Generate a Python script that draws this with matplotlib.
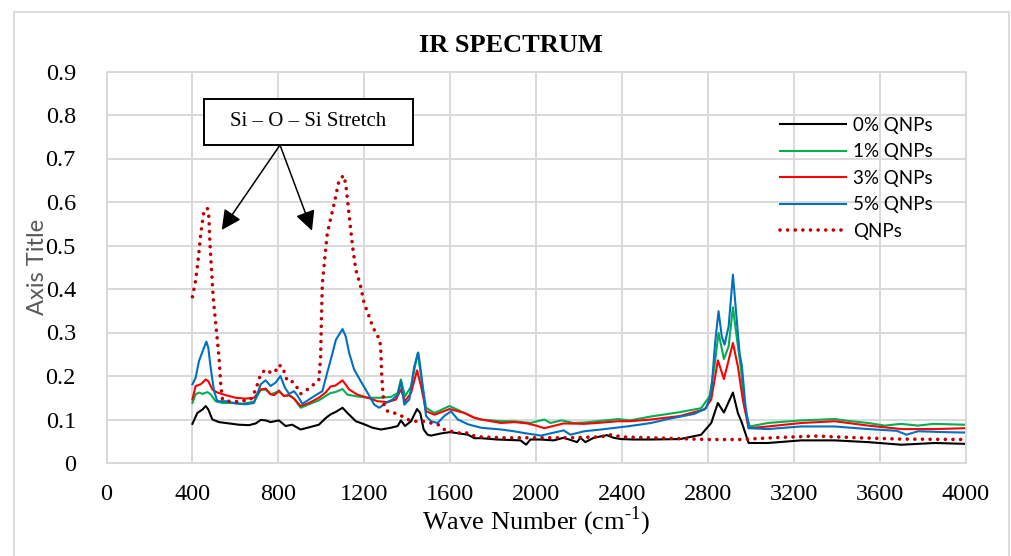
import matplotlib
matplotlib.use("Agg")
import matplotlib.pyplot as plt
from matplotlib.patches import Rectangle

# ---------------- data ----------------
x_0pct = [400,423,447,462,474,493,524,570,617,664,695,718,741,764,803,834,865,904,943,989,1020,1044,1066,1099,1122,1161,1200,1239,1278,1324,1356,1371,1390,1418,1446,1461,1477,1495,1511,1558,1600,1643,1683,1713,1745,1820,1928,1954,1974,2021,2083,2129,2191,2207,2230,2269,2330,2361,2396,2454,2536,2671,2769,2816,2847,2875,2917,2940,2959,2990,3080,3235,3391,3546,3702,3857,4000]
y_0pct = [0.090,0.115,0.123,0.131,0.123,0.100,0.094,0.091,0.088,0.087,0.091,0.099,0.098,0.094,0.098,0.085,0.088,0.077,0.082,0.088,0.103,0.112,0.117,0.127,0.115,0.096,0.089,0.081,0.077,0.081,0.085,0.098,0.085,0.096,0.124,0.115,0.077,0.065,0.063,0.068,0.071,0.068,0.065,0.057,0.057,0.054,0.052,0.042,0.054,0.054,0.052,0.058,0.048,0.058,0.048,0.058,0.064,0.058,0.055,0.054,0.054,0.055,0.065,0.092,0.138,0.116,0.162,0.115,0.092,0.046,0.046,0.052,0.052,0.048,0.042,0.046,0.044]

x_1pct = [400,415,431,447,470,485,508,540,586,633,687,718,741,764,788,803,826,850,873,904,943,989,1020,1044,1066,1099,1122,1169,1216,1278,1324,1356,1371,1390,1418,1449,1465,1488,1527,1597,1667,1713,1745,1837,1897,1974,2039,2067,2120,2175,2225,2284,2381,2438,2536,2671,2692,2769,2808,2831,2850,2875,2897,2917,2932,2953,2971,2995,3080,3235,3391,3469,3546,3624,3700,3779,3850,4000]
y_1pct = [0.138,0.158,0.162,0.159,0.163,0.158,0.142,0.138,0.138,0.136,0.141,0.168,0.169,0.158,0.162,0.167,0.154,0.156,0.148,0.127,0.135,0.144,0.154,0.161,0.163,0.170,0.157,0.153,0.150,0.150,0.152,0.161,0.192,0.153,0.176,0.253,0.199,0.127,0.115,0.131,0.115,0.104,0.100,0.096,0.096,0.092,0.100,0.092,0.098,0.092,0.093,0.096,0.101,0.098,0.107,0.117,0.119,0.126,0.153,0.222,0.299,0.239,0.268,0.358,0.299,0.222,0.130,0.084,0.092,0.098,0.101,0.096,0.092,0.086,0.090,0.086,0.090,0.088]

x_3pct = [400,415,439,462,474,493,516,555,601,648,687,718,741,764,780,803,826,850,873,904,943,989,1020,1044,1066,1099,1130,1169,1216,1262,1309,1348,1371,1390,1418,1446,1465,1488,1527,1597,1667,1713,1745,1837,1900,1959,2000,2039,2129,2225,2284,2381,2438,2536,2671,2692,2785,2816,2847,2875,2917,2940,2963,2990,3080,3235,3391,3546,3702,3857,4000]
y_3pct = [0.146,0.177,0.181,0.192,0.188,0.169,0.162,0.156,0.150,0.148,0.150,0.169,0.171,0.158,0.156,0.165,0.154,0.156,0.148,0.131,0.138,0.150,0.162,0.176,0.178,0.190,0.169,0.157,0.150,0.142,0.140,0.146,0.169,0.142,0.161,0.213,0.176,0.119,0.111,0.124,0.115,0.104,0.100,0.092,0.094,0.091,0.086,0.080,0.091,0.090,0.092,0.096,0.096,0.100,0.108,0.111,0.123,0.146,0.236,0.193,0.276,0.222,0.146,0.080,0.084,0.092,0.096,0.086,0.078,0.078,0.080]

x_5pct = [400,415,431,454,465,474,485,501,516,555,601,648,687,718,741,764,788,810,831,850,873,888,912,943,981,1005,1028,1051,1068,1099,1114,1130,1153,1184,1216,1247,1270,1301,1332,1356,1371,1387,1410,1433,1452,1465,1488,1511,1542,1573,1604,1636,1683,1745,1837,1897,1943,2023,2129,2160,2225,2303,2438,2536,2614,2738,2792,2816,2834,2850,2865,2878,2897,2917,2932,2948,2959,2974,2990,3080,3235,3391,3546,3680,3725,3779,3900,4000]
y_5pct = [0.181,0.196,0.235,0.265,0.279,0.265,0.219,0.165,0.142,0.142,0.137,0.135,0.138,0.181,0.190,0.177,0.185,0.200,0.173,0.159,0.165,0.156,0.136,0.146,0.158,0.165,0.208,0.250,0.283,0.308,0.291,0.253,0.215,0.188,0.161,0.134,0.127,0.138,0.146,0.157,0.188,0.134,0.146,0.222,0.254,0.207,0.108,0.096,0.092,0.108,0.119,0.100,0.089,0.081,0.077,0.073,0.069,0.063,0.075,0.065,0.073,0.077,0.085,0.092,0.101,0.113,0.126,0.161,0.276,0.349,0.291,0.272,0.314,0.433,0.345,0.253,0.222,0.138,0.080,0.078,0.084,0.084,0.078,0.074,0.065,0.073,0.071,0.070]

x_qnps = [400,415,428,439,454,470,477,481,490,498,512,524,532,540,570,617,671,695,718,741,764,784,800,819,842,865,888,904,935,966,989,997,1001,1005,1017,1028,1043,1060,1083,1104,1114,1130,1146,1161,1184,1200,1223,1239,1255,1273,1278,1281,1286,1293,1309,1340,1371,1402,1433,1472,1511,1542,1573,1604,1643,1683,1713,1745,1850,2000,2150,2300,2350,2400,2600,2800,2950,3100,3300,3500,3700,4000]
y_qnps = [0.382,0.419,0.473,0.527,0.581,0.585,0.565,0.512,0.435,0.373,0.304,0.242,0.181,0.146,0.142,0.141,0.146,0.169,0.204,0.215,0.208,0.208,0.225,0.222,0.188,0.187,0.173,0.159,0.169,0.181,0.192,0.242,0.335,0.412,0.473,0.527,0.560,0.596,0.650,0.661,0.642,0.569,0.497,0.444,0.405,0.367,0.337,0.314,0.298,0.283,0.253,0.207,0.169,0.131,0.119,0.115,0.109,0.100,0.096,0.096,0.092,0.089,0.077,0.073,0.069,0.069,0.062,0.060,0.058,0.058,0.058,0.060,0.065,0.060,0.057,0.054,0.054,0.058,0.062,0.058,0.055,0.054]

series_labels = ["0% QNPs", "1% QNPs", "3% QNPs", "5% QNPs", "QNPs"]
x_ticks = [0, 400, 800, 1200, 1600, 2000, 2400, 2800, 3200, 3600, 4000]
y_ticks = [0, 0.1, 0.2, 0.3, 0.4, 0.5, 0.6, 0.7, 0.8, 0.9]
y_tick_labels = ["0", "0.1", "0.2", "0.3", "0.4", "0.5", "0.6", "0.7", "0.8", "0.9"]
title_text = "IR SPECTRUM"
annotation_text = "Si \u2013 O \u2013 Si Stretch"

# ---------------- figure ----------------
SERIF = ["Liberation Serif", "DejaVu Serif"]
SANS = ["Lato", "DejaVu Sans"]
GRID = "#d9d9d9"

fig = plt.figure(figsize=(10.11, 5.56), dpi=100)
W, H = 1011.0, 556.0
ax = fig.add_axes([106.5 / W, 1 - 463 / H, 859 / W, 391.5 / H])

# chart-area border
fig.patches.append(Rectangle((14 / W, -0.02), (1009 - 14) / W, (556 - 12) / H + 0.02,
                             transform=fig.transFigure, fill=False,
                             edgecolor=GRID, lw=1.3))

ax.plot(x_0pct, y_0pct, color="black", lw=1.5, label=series_labels[0])
ax.plot(x_1pct, y_1pct, color="#00B050", lw=1.5, label=series_labels[1])
ax.plot(x_3pct, y_3pct, color="#FF0000", lw=1.5, label=series_labels[2])
ax.plot(x_5pct, y_5pct, color="#0070C0", lw=1.5, label=series_labels[3])
ax.plot(x_qnps, y_qnps, color="#C00000", lw=2.6, linestyle=(0, (0.01, 2.1)),
        dash_capstyle="round", label=series_labels[4])

ax.set_xlim(0, 4000)
ax.set_ylim(0, 0.9)
ax.set_xticks(x_ticks)
ax.set_xticklabels([str(t) for t in x_ticks], fontfamily=SERIF, fontsize=17.5)
ax.set_yticks(y_ticks)
ax.set_yticklabels(y_tick_labels, fontfamily=SERIF, fontsize=17.5)
ax.tick_params(length=0, pad=15, colors="black")
ax.tick_params(axis="y", pad=22)
ax.grid(True, color=GRID, lw=1.4)
ax.set_axisbelow(True)
for s in ax.spines.values():
    s.set_color(GRID)
    s.set_linewidth(1.4)

fig.text(511 / W, 1 - 46 / H, title_text, ha="center", va="center",
         fontfamily=SERIF, fontweight="bold", fontsize=19)
fig.text(536 / W, 1 - 521 / H, "Wave Number (cm$^{\\mathregular{\u20101}}$)", ha="center", va="center",
         fontfamily=SERIF, fontsize=19)
fig.text(37 / W, 1 - 267 / H, "Axis Title", ha="center", va="center", rotation=90,
         fontfamily=SANS, fontsize=17, color="#595959")

leg = ax.legend(loc="upper left", bbox_to_anchor=((780 - 106.5) / 859, (463 - 117) / 391.5),
                frameon=False, prop={"family": SANS, "size": 13.5}, handlelength=3.5,
                handletextpad=0.4, labelspacing=0.5, borderpad=0, borderaxespad=0)

# annotation box and arrows
ax.add_patch(Rectangle(((204 - 106.5) / 859, (463 - 145) / 391.5), 209 / 859, 46 / 391.5,
                       transform=ax.transAxes, fill=True, facecolor="white",
                       edgecolor="black", lw=1.4, zorder=5))
ax.text((308.5 - 106.5) / 859, (463 - 122) / 391.5, annotation_text, transform=ax.transAxes,
        ha="center", va="center", fontfamily=SERIF, fontsize=15, zorder=6)
start = ((280 - 106.5) / 859, (463 - 145) / 391.5)
for tip_px in [(221.7, 230), (312, 230.7)]:
    tip = ((tip_px[0] - 106.5) / 859, (463 - tip_px[1]) / 391.5)
    ax.annotate("", xy=tip, xytext=start, xycoords="axes fraction", textcoords="axes fraction",
                arrowprops=dict(arrowstyle="-|>,head_length=0.6,head_width=0.3",
                                color="black", lw=1.1, mutation_scale=20,
                                shrinkA=0, shrinkB=0), zorder=6)

fig.savefig("out.png", dpi=100)
